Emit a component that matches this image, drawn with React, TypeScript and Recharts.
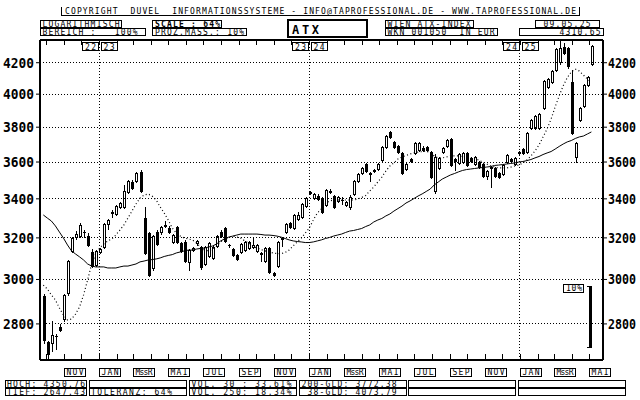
import React from 'react';
import { ComposedChart, Bar, Line, XAxis, YAxis, ReferenceLine, ReferenceArea } from 'recharts';

const opens = [
  2924, 2721, 2714, 2748, 2788, 2817, 2932, 3131, 3197, 3206,
  3228, 3209, 3131, 3064, 3126, 3150, 3265, 3321, 3316, 3352,
  3352, 3431, 3490, 3490, 3545, 3299, 3222, 3047, 3231, 3222,
  3262, 3251, 3176, 3256, 3176, 3181, 3076, 3135, 3168, 3156,
  3068, 3108, 3097, 3156, 3231, 3248, 3163, 3145, 3116, 3125,
  3136, 3145, 3151, 3132, 3116, 3081, 3151, 3029, 3060, 3190,
  3222, 3273, 3244, 3290, 3299, 3358, 3435, 3399, 3416, 3405,
  3362, 3443, 3416, 3382, 3396, 3364, 3350, 3420, 3492, 3532,
  3587, 3537, 3555, 3556, 3606, 3681, 3770, 3715, 3692, 3649,
  3554, 3617, 3643, 3660, 3681, 3684, 3657, 3435, 3561, 3649,
  3687, 3731, 3617, 3587, 3593, 3649, 3621, 3583, 3598, 3587,
  3519, 3574, 3565, 3537, 3528, 3593, 3617, 3583, 3657, 3673,
  3650, 3789, 3789, 3787, 3907, 4036, 4071, 4148, 4195, 4302,
  4295, 4077, 3621, 3839, 3919, 4051, 4185,
];
const highs = [
  2935, 2726, 2813, 2755, 2798, 2935, 3092, 3205, 3235, 3275,
  3240, 3225, 3145, 3140, 3150, 3275, 3295, 3340, 3366, 3385,
  3474, 3500, 3500, 3545, 3556, 3358, 3230, 3215, 3240, 3260,
  3285, 3258, 3220, 3262, 3182, 3188, 3146, 3156, 3190, 3162,
  3162, 3178, 3162, 3215, 3238, 3254, 3172, 3150, 3120, 3174,
  3186, 3184, 3206, 3170, 3132, 3156, 3156, 3034, 3186, 3206,
  3273, 3280, 3322, 3330, 3377, 3408, 3442, 3430, 3424, 3410,
  3452, 3450, 3422, 3417, 3410, 3388, 3418, 3500, 3538, 3571,
  3594, 3542, 3560, 3593, 3691, 3754, 3777, 3721, 3698, 3655,
  3593, 3623, 3712, 3712, 3688, 3690, 3663, 3645, 3627, 3687,
  3731, 3737, 3623, 3649, 3655, 3655, 3627, 3636, 3604, 3593,
  3556, 3580, 3571, 3543, 3589, 3645, 3623, 3630, 3663, 3679,
  3772, 3849, 3874, 3885, 4088, 4100, 4152, 4300, 4350.76, 4330,
  4302, 4153, 3716, 3920, 4063, 4116, 4316,
];
const lows = [
  2715, 2647.43, 2680, 2690, 2765, 2810, 2925, 3125, 3190, 3200,
  3200, 3155, 3055, 3058, 3120, 3145, 3239, 3300, 3310, 3345,
  3345, 3425, 3445, 3485, 3430, 3115, 3010, 3040, 3160, 3215,
  3250, 3220, 3170, 3168, 3125, 3078, 3041, 3130, 3162, 3046,
  3062, 3102, 3090, 3150, 3200, 3175, 3150, 3108, 3086, 3120,
  3130, 3140, 3145, 3127, 3081, 3076, 3024, 3012, 3055, 3156,
  3217, 3243, 3239, 3285, 3294, 3352, 3418, 3394, 3390, 3320,
  3356, 3427, 3347, 3376, 3370, 3358, 3344, 3414, 3486, 3526,
  3538, 3492, 3538, 3550, 3600, 3675, 3732, 3676, 3643, 3527,
  3548, 3596, 3637, 3654, 3656, 3658, 3504, 3425, 3555, 3643,
  3681, 3573, 3550, 3581, 3587, 3573, 3592, 3577, 3559, 3513,
  3501, 3456, 3513, 3507, 3522, 3587, 3592, 3577, 3637, 3637,
  3644, 3783, 3783, 3781, 3900, 4030, 4065, 4140, 4188, 4250,
  4162, 3755, 3596, 3833, 3913, 4045, 4178,
];
const closes = [
  2728, 2668, 2752, 2744, 2770, 2929, 3087, 3199, 3221, 3265,
  3224, 3160, 3059, 3136, 3145, 3270, 3290, 3331, 3362, 3378,
  3442, 3495, 3452, 3539, 3436, 3121, 3016, 3209, 3165, 3253,
  3266, 3225, 3214, 3173, 3132, 3084, 3140, 3150, 3185, 3052,
  3156, 3173, 3156, 3209, 3206, 3181, 3160, 3113, 3092, 3168,
  3181, 3178, 3164, 3164, 3128, 3151, 3029, 3018, 3181, 3198,
  3268, 3248, 3316, 3316, 3371, 3403, 3424, 3424, 3394, 3326,
  3447, 3432, 3353, 3412, 3392, 3382, 3412, 3495, 3532, 3565,
  3543, 3530, 3543, 3587, 3685, 3748, 3738, 3681, 3649, 3532,
  3587, 3602, 3706, 3706, 3662, 3664, 3510, 3630, 3621, 3681,
  3725, 3579, 3602, 3643, 3649, 3579, 3598, 3630, 3565, 3519,
  3550, 3561, 3519, 3513, 3583, 3639, 3598, 3624, 3643, 3643,
  3766, 3843, 3868, 3879, 4082, 4093, 4146, 4290, 4295, 4257,
  4169, 3760, 3710, 3913, 4057, 4110, 4310.65,
];
const ma200 = [
  3316, 3300, 3285, 3260, 3229, 3199, 3165, 3136, 3121, 3107,
  3092, 3073, 3063, 3059, 3059, 3059, 3054, 3054, 3054, 3059,
  3063, 3063, 3068, 3073, 3083, 3087, 3092, 3094, 3097, 3102,
  3109, 3114, 3118, 3126, 3131, 3136, 3140, 3140, 3145, 3148,
  3150, 3155, 3160, 3170, 3185, 3195, 3204, 3209, 3214, 3219,
  3219, 3219, 3219, 3219, 3217, 3214, 3214, 3212, 3209, 3204,
  3197, 3190, 3185, 3182, 3180, 3177, 3177, 3180, 3185, 3190,
  3197, 3202, 3209, 3214, 3219, 3227, 3234, 3237, 3242, 3247,
  3257, 3265, 3280, 3290, 3298, 3311, 3321, 3336, 3349, 3362,
  3378, 3389, 3402, 3415, 3426, 3439, 3452, 3474, 3490, 3506,
  3517, 3528, 3536, 3545, 3553, 3558, 3561, 3564, 3567, 3569,
  3572, 3575, 3581, 3583, 3586, 3589, 3592, 3595, 3600, 3603,
  3608, 3614, 3623, 3631, 3642, 3651, 3659, 3673, 3688, 3702,
  3714, 3722, 3734, 3743, 3748, 3760, 3772,
];
const ma38 = [
  2974, 2956, 2929, 2906, 2870, 2839, 2817, 2821, 2843, 2875,
  2929, 2998, 3073, 3121, 3150, 3170, 3185, 3195, 3214, 3239,
  3265, 3300, 3336, 3373, 3404, 3420, 3426, 3415, 3394, 3357,
  3326, 3290, 3249, 3224, 3209, 3199, 3195, 3190, 3175, 3155,
  3140, 3136, 3145, 3160, 3180, 3195, 3204, 3209, 3204, 3199,
  3185, 3175, 3160, 3150, 3143, 3136, 3131, 3126, 3123, 3123,
  3128, 3140, 3160, 3180, 3199, 3224, 3249, 3290, 3326, 3347,
  3373, 3389, 3394, 3394, 3394, 3394, 3394, 3394, 3399, 3407,
  3418, 3442, 3463, 3490, 3517, 3550, 3578, 3595, 3617, 3628,
  3637, 3645, 3651, 3656, 3659, 3662, 3651, 3634, 3623, 3623,
  3628, 3634, 3634, 3634, 3631, 3628, 3625, 3623, 3611, 3600,
  3589, 3578, 3572, 3567, 3567, 3567, 3572, 3578, 3583, 3595,
  3611, 3634, 3662, 3696, 3743, 3789, 3848, 3921, 3989, 4052,
  4103, 4140, 4159, 4146, 4121, 4095, 4074,
];

const yTicks = [2800, 3000, 3200, 3400, 3600, 3800, 4000, 4200];
const yDomain = [2647.43, 4350.76];
const xDomain = [-0.82, 138.88];
const monthTicks = [
  0.68, 5.11, 9.39, 13.82, 18.25, 22.25, 26.68, 30.96, 35.39, 39.68, 44.11, 48.53,
  52.82, 57.25, 61.53, 65.96, 70.39, 74.53, 78.96, 83.25, 87.68, 91.96, 96.39, 100.82,
  105.11, 109.53, 113.82, 118.25, 122.68, 126.68, 131.11, 135.39,
];
const monthLabels = [
  '', 'NOV', '', 'JAN', '', 'MssR', '', 'MAI', '', 'JUL', '', 'SEP',
  '', 'NOV', '', 'JAN', '', 'MssR', '', 'MAI', '', 'JUL', '', 'SEP',
  '', 'NOV', '', 'JAN', '', 'MssR', '', 'MAI',
];
const yearLines = [13.82, 65.96, 118.25];
const yearLabels = [['22', '23'], ['23', '24'], ['24', '25']];
const scaleBar = { base: 2698, pct: 10, x1: 135.2, x2: 136.1, label: '10%' };

const rows = opens.map((o, i) => ({
  i, o, h: highs[i], l: lows[i], c: closes[i], m200: ma200[i], m38: ma38[i],
}));

const FONT = "'DejaVu Sans Mono', 'Liberation Mono', monospace";

function T({ x, y, s, w, size = 8, bold = false, anchor = 'start' }: any) {
  return (
    <text x={x} y={y} fontFamily={FONT} fontSize={size} fontWeight={bold ? 700 : 400}
      textAnchor={anchor} textLength={w} lengthAdjust="spacing" xmlSpace="preserve"
      style={{ whiteSpace: 'pre' }} fill="#000">{s}</text>
  );
}
function Box({ x, y, w, h, sw = 1 }: any) {
  return <rect x={x} y={y} width={w} height={h} fill="#fff" stroke="#000" strokeWidth={sw} shapeRendering="crispEdges" />;
}

const Candle = (props: any) => {
  const { x, y, width, height, payload } = props;
  if (x == null || y == null || !payload) return null;
  const cx = Math.round(x + width / 2);
  const top = y;
  const bot = y + height;
  const lh = Math.log(payload.h);
  const ll = Math.log(payload.l);
  const f = (v: number) => top + ((lh - Math.log(v)) / (lh - ll)) * (bot - top);
  const yo = f(payload.o);
  const yc = f(payload.c);
  const bTop = Math.round(Math.min(yo, yc));
  const bBot = Math.round(Math.max(yo, yc));
  const up = payload.c >= payload.o;
  return (
    <g shapeRendering="crispEdges">
      <line x1={cx + 0.5} x2={cx + 0.5} y1={Math.round(top)} y2={Math.round(bot)} stroke="#000" strokeWidth={1} />
      {up ? (
        <rect x={cx - 0.5} y={bTop + 0.5} width={2} height={Math.max(bBot - bTop - 1, 1)} fill="#fff" stroke="#000" strokeWidth={1} />
      ) : (
        <rect x={cx - 1} y={bTop} width={3} height={Math.max(bBot - bTop, 1)} fill="#000" />
      )}
    </g>
  );
};

const LeftTick = (p: any) => (
  <text x={p.x} y={p.y + 5} textAnchor="end" fontFamily={FONT} fontWeight={700} fontSize={14}
    textLength={31} lengthAdjust="spacingAndGlyphs" fill="#000">{p.payload.value}</text>
);
const RightTick = (p: any) => (
  <text x={p.x - 1} y={p.y + 5} textAnchor="start" fontFamily={FONT} fontWeight={700} fontSize={13.5}
    textLength={28} lengthAdjust="spacingAndGlyphs" fill="#000">{p.payload.value}</text>
);

const BottomTick = (p: any) => {
  const k = monthTicks.indexOf(p.payload.value);
  const lab = k >= 0 ? monthLabels[k] : '';
  const x = Math.round(p.x) + 0.5;
  const y = p.y;
  return (
    <g>
      <line x1={x} x2={x} y1={y} y2={y - 6} stroke="#000" shapeRendering="crispEdges" />
      {lab ? (
        <g>
          <Box x={x - 0.5} y={y + 8.5} w={21} h={7.5} />
          <T x={x + 2} y={y + 15} s={lab} w={17} />
        </g>
      ) : null}
    </g>
  );
};

const TopTick = (p: any) => {
  const k = yearLines.indexOf(p.payload.value);
  const x = Math.round(p.x) + 0.5;
  const y = p.y;
  return (
    <g>
      <line x1={x} x2={x} y1={y} y2={y + 5} stroke="#000" shapeRendering="crispEdges" />
      {k >= 0 ? (
        <g>
          <Box x={x - 17} y={y + 2.5} w={16} h={8} />
          <T x={x - 14.5} y={y + 9.5} s={yearLabels[k][0]} w={11} />
          <Box x={x + 1.5} y={y + 2.5} w={16} h={8} />
          <T x={x + 4} y={y + 9.5} s={yearLabels[k][1]} w={11} />
        </g>
      ) : null}
    </g>
  );
};

const ScaleBarShape = (p: any) => {
  const bx = Math.round(p.x + p.width / 2);
  const top = Math.round(p.y);
  const bot = Math.round(p.y + p.height);
  return (
    <g shapeRendering="crispEdges">
      <rect x={bx - 1} y={top} width={3} height={bot - top} fill="#000" />
      <rect x={bx - 3} y={top} width={2} height={1} fill="#000" />
      <rect x={bx - 3} y={bot - 1} width={2} height={1} fill="#000" />
      <Box x={bx - 26.5} y={top - 1.5} w={20} h={7.5} />
      <T x={bx - 24} y={top + 5} s={scaleBar.label} w={16} />
    </g>
  );
};

const footCols = [[5.5, 80.5], [89.5, 97], [189.5, 107], [299.5, 106.5], [408.5, 106.5], [518.5, 106.5]];

export default function App() {
  return (
    <div style={{ position: 'absolute', left: 0, top: 0, width: 640, height: 400, background: '#fff' }}>
      <ComposedChart width={640} height={400} data={rows} margin={{ top: 10, right: 0, bottom: 10, left: 0 }}>
        <XAxis xAxisId="b" dataKey="i" type="number" domain={xDomain} allowDataOverflow ticks={monthTicks}
          interval={0} height={30} tickSize={0} tickMargin={0} tickLine={false}
          axisLine={{ stroke: '#000', strokeWidth: 2 }} tick={(p: any) => <BottomTick {...p} />} />
        <XAxis xAxisId="t" orientation="top" dataKey="i" type="number" domain={xDomain} allowDataOverflow
          ticks={monthTicks} interval={0} height={30} tickSize={0} tickMargin={0} tickLine={false}
          axisLine={{ stroke: '#000', strokeWidth: 2 }} tick={(p: any) => <TopTick {...p} />} />
        <YAxis yAxisId="L" orientation="left" width={40} scale="log" domain={yDomain} allowDataOverflow
          ticks={yTicks} interval={0} tickSize={4} tickMargin={2} tickLine={{ stroke: '#000' }}
          axisLine={{ stroke: '#000', strokeWidth: 2 }} tick={(p: any) => <LeftTick {...p} />} />
        <YAxis yAxisId="R" orientation="right" width={37} scale="log" domain={yDomain} allowDataOverflow
          ticks={yTicks} interval={0} tickSize={4} tickMargin={2} tickLine={{ stroke: '#000' }}
          axisLine={{ stroke: '#000', strokeWidth: 2 }} tick={(p: any) => <RightTick {...p} />} />

        {yTicks.map((v) => (
          <ReferenceLine key={'g' + v} xAxisId="b" yAxisId="L" y={v} stroke="#000" strokeDasharray="1 2"
            strokeWidth={1} shapeRendering="crispEdges" />
        ))}
        {yearLines.map((v) => (
          <ReferenceLine key={'y' + v} xAxisId="b" yAxisId="L" x={v} stroke="#000" strokeDasharray="1 2"
            strokeWidth={1} shapeRendering="crispEdges" />
        ))}

        <Line xAxisId="t" yAxisId="R" dataKey="c" stroke="none" dot={false} activeDot={false} isAnimationActive={false} />
        <Line xAxisId="b" yAxisId="L" dataKey="m200" type="linear" stroke="#000" strokeWidth={1} dot={false}
          activeDot={false} isAnimationActive={false} />
        <Line xAxisId="b" yAxisId="L" dataKey="m38" type="linear" stroke="#000" strokeWidth={1.2}
          strokeDasharray="1 2.5" dot={false} activeDot={false} isAnimationActive={false} />
        <Bar xAxisId="b" yAxisId="L" dataKey={(d: any) => [d.l, d.h]} barSize={3} shape={(p: any) => <Candle {...p} />}
          isAnimationActive={false} />

        <ReferenceArea xAxisId="b" yAxisId="L" x1={scaleBar.x1} x2={scaleBar.x2} y1={scaleBar.base}
          y2={scaleBar.base * (1 + scaleBar.pct / 100)} shape={(p: any) => <ScaleBarShape {...p} />} />
      </ComposedChart>

      <svg width={640} height={400} style={{ position: 'absolute', left: 0, top: 0, pointerEvents: 'none' }}>
        <path d="M61.5 7V15.5H579.5V7" fill="none" stroke="#000" strokeWidth={1} shapeRendering="crispEdges" />
        <T x={65} y={13.8} s="COPYRIGHT  DUVEL  INFORMATIONSSYSTEME - INFO@TAPROFESSIONAL.DE - WWW.TAPROFESSIONAL.DE" w={511} />

        <Box x={40.5} y={20.5} w={81} h={7} />
        <T x={42.5} y={26.8} s="LOGARITHMISCH" w={77} />
        <Box x={152.5} y={20.5} w={69} h={7} />
        <T x={155} y={26.8} s="SCALE : 64%" w={65} bold />
        <rect x={288} y={20} width={79} height={17} fill="#fff" stroke="#000" strokeWidth={2} shapeRendering="crispEdges" />
        <T x={292} y={33.5} s="ATX" w={27} size={12} bold />
        <Box x={385.5} y={20.5} w={88} h={7} />
        <T x={387.5} y={26.8} s="WIEN ATX-INDEX" w={83} />
        <Box x={535.5} y={20.5} w={64} h={7} />
        <T x={543.5} y={26.8} s="09.05.25" w={47} />

        <Box x={40.5} y={28.5} w={104.5} h={7} />
        <T x={42.5} y={34.8} s="BEREICH :   100%" w={95} />
        <Box x={152.5} y={28.5} w={94} h={7} />
        <T x={155} y={34.8} s="PROZ.MASS.: 10%" w={89} />
        <Box x={385.5} y={28.5} w={112} h={7} />
        <T x={387.5} y={34.8} s="WKN 001050  IN EUR" w={107} />
        <Box x={519.5} y={28.5} w={84} h={7} />
        <T x={600.5} y={34.8} s="4310.65" w={41} anchor="end" />

        {footCols.map(([x, w], k) => (
          <g key={'f' + k}>
            <Box x={x} y={380.5} w={w} h={7} />
            <Box x={x} y={388.5} w={w} h={7} />
          </g>
        ))}
        <T x={7} y={386.8} s="HOCH: 4350.76" w={78} />
        <T x={7} y={394.8} s="TIEF: 2647.43" w={78} />
        <T x={91} y={394.8} s="TOLERANZ: 64%" w={81} />
        <T x={191.5} y={386.8} s="VOL. 30 : 33.61%" w={100} />
        <T x={191.5} y={394.8} s="VOL. 250: 18.34%" w={100} />
        <T x={301.5} y={386.8} s="200-GLD: 3772.38" w={95} />
        <T x={301.5} y={394.8} s=" 38-GLD: 4073.79" w={95} />
      </svg>
    </div>
  );
}
